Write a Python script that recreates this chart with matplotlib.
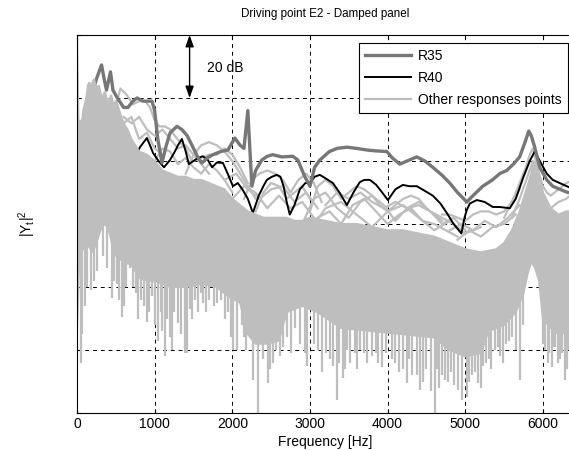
import numpy as np
import matplotlib
matplotlib.use('Agg')
import matplotlib.pyplot as plt

plt.rcParams['font.family'] = ['Liberation Sans', 'DejaVu Sans']
plt.rcParams['font.size'] = 10

# R35 (dB)
f_r35 = [0, 50, 100, 150, 200, 250, 316, 350, 380, 431, 463, 520, 600, 656, 720, 772, 850, 900, 965,
         1000, 1040, 1094, 1150, 1200, 1287, 1350, 1420, 1500, 1560, 1609, 1680, 1750, 1850, 1943,
         2033, 2100, 2150, 2200, 2230, 2252, 2300, 2380, 2450, 2520, 2638, 2780, 2844, 2934, 3000,
         3060, 3127, 3250, 3350, 3475, 3600, 3732, 3850, 3990, 4060, 4157, 4250, 4376, 4480, 4582,
         4700, 4800, 4900, 5019, 5100, 5225, 5350, 5444, 5534, 5620, 5700, 5770, 5817, 5850, 5894,
         5959, 6050, 6126, 6220, 6320, 6400]
db_r35 = [-45, -30, -25, -22, -18, -14, -9.5, -14, -17.5, -11.7, -17.5, -20, -23, -23, -21, -20, -21, -21, -21,
          -24, -33, -40.6, -35, -31, -29, -30, -32, -36, -39, -40.6, -39, -38, -37, -36.5,
          -32.7, -35, -36, -24, -38, -48, -43, -39.7, -38.5, -38, -38.7, -38.5, -39.7, -45, -48,
          -42, -39.7, -37, -36, -35.6, -36, -36.5, -36.8, -37, -39, -41, -40, -38.7, -40, -42,
          -44.5, -47, -50, -53, -51, -48, -46, -44, -43, -41, -38.7, -34, -30.5, -32, -35.6,
          -42, -46, -48, -49, -50, -50]

# R40 (dB)
f_r40 = [0, 300, 600, 700, 760, 811, 860, 900, 940, 980, 1050, 1120, 1197, 1260, 1300, 1351, 1400, 1440,
         1500, 1560, 1620, 1686, 1740, 1800, 1879, 1940, 2008, 2070, 2130, 2200, 2265, 2340, 2400, 2445,
         2510, 2574, 2620, 2660, 2700, 2740, 2800, 2870, 2940, 3000, 3060, 3127, 3200, 3295, 3380, 3475,
         3560, 3642, 3700, 3771, 3850, 3930, 4003, 4100, 4196, 4280, 4376, 4480, 4582, 4680, 4762, 4850,
         4950, 4990, 5019, 5058, 5148, 5250, 5354, 5444, 5573, 5650, 5750, 5830, 5894, 5960, 6049, 6126,
         6216, 6306, 6400]
db_r40 = [-50, -40, -38, -37, -38, -35.6, -34, -32.7, -35, -37.5, -40, -42, -39.7, -37, -35, -33, -37, -41,
          -40, -39, -38.5, -39.7, -42, -40.5, -40.6, -44, -48, -47, -49, -52, -56.5, -51, -48, -46,
          -45, -44.4, -45, -48, -53, -57, -54, -49, -47, -47, -45, -44.4, -45.5, -47, -50, -54,
          -50, -46.7, -46, -46, -47.5, -50, -52.4, -49, -47.6, -48, -48, -49.5, -51, -53.5, -56.5, -60,
          -63, -58, -55.6, -53.5, -52.4, -53, -54.6, -54.6, -55, -52, -45, -40, -37, -40, -44, -46,
          -47, -48, -49]

# other response points: dense part (top / bottom)
f_top = [0, 20, 40, 60, 80, 100, 120, 140, 160, 180, 200, 220, 250, 280, 320, 360, 400, 440, 480, 520,
         560, 600, 650, 700, 800, 900, 1000, 1100, 1200, 1300, 1400, 1500, 1600, 1700, 1800, 1900, 2000,
         2100, 2200, 2300, 2400, 2500, 2600, 2700, 2800, 2900, 3000, 3200, 3400, 3600, 3800, 4000, 4200,
         4400, 4600, 4800, 5000, 5200, 5400, 5500, 5600, 5700, 5750, 5800, 5850, 5880, 5920, 5960, 6000,
         6100, 6200, 6300, 6400]
db_top = [0, -30, -27, -29, -24, -22, -20, -16, -15, -18, -15, -14, -17, -16, -20, -18, -22, -19, -24, -22,
          -26, -28, -30, -33, -37, -38, -40, -43, -44, -45, -45, -46, -46, -47, -48, -49, -52,
          -54, -56, -57, -58, -58, -58, -58, -59, -59, -58, -59, -60, -60, -61, -62, -62,
          -63, -64, -66, -68, -69, -68, -66, -62, -56, -52, -48, -44, -40, -42, -46, -50,
          -55, -57, -56, -56]
f_bot = [0, 30, 60, 100, 150, 200, 250, 300, 350, 400, 450, 500, 600, 700, 800, 900, 1000, 1200, 1400,
         1600, 1800, 1950, 2100, 2200, 2300, 2450, 2600, 2700, 2900, 3100, 3400, 3800, 4200, 4600, 4800,
         5000, 5200, 5300, 5500, 5650, 5750, 5800, 5850, 5900, 5950, 6000, 6100, 6200, 6400]
db_bot = [-94, -70, -68, -68, -67, -69, -66, -62, -60, -61, -66, -70, -72, -73, -77, -78, -78, -80, -80,
          -79, -80, -83, -85, -95, -98, -98, -97, -88, -86, -88, -93, -94, -95, -96, -100,
          -102, -101, -94, -92, -88, -82, -76, -72, -74, -78, -90, -93, -95, -94]

# deep notches of the other responses
dip_f = [50, 70, 103, 130, 180, 220, 257, 330, 380, 450, 480, 515, 540, 580, 610, 630, 682, 720, 760,
         790, 820, 860, 900, 930, 965, 1010, 1042, 1080, 1100, 1133, 1160, 1197, 1220, 1250, 1300, 1340,
         1390, 1416, 1454, 1480, 1520, 1560, 1600, 1622, 1660, 1700, 1760, 1800, 1850, 1900, 1943, 1980,
         2008, 2059, 2120, 2150, 2180, 2265, 2330, 2394, 2458, 2480, 2520, 2560, 2612, 2650, 2700, 2750,
         2806, 2870, 2934, 2960, 3050, 3100, 3153, 3200, 3260, 3300, 3346, 3380, 3420, 3450, 3480, 3520,
         3580, 3600, 3650, 3700, 3732, 3800, 3850, 3880, 3925, 3980, 4050, 4100, 4150, 4200, 4247, 4280,
         4320, 4380, 4415, 4460, 4500, 4560, 4607, 4640, 4660, 4700, 4736, 4780, 4820, 4860, 4903, 4960,
         5019, 5050, 5090, 5130, 5161, 5200, 5230, 5270, 5300, 5330, 5380, 5420, 5450, 5480, 5530, 5560,
         5600, 5650, 5701, 5740, 6000, 6030, 6060, 6080, 6113, 6140, 6160, 6190, 6220, 6250, 6280, 6310,
         6330, 6370]
dip_db = [-104, -95, -86, -80, -81, -78, -75, -70, -74, -83.5, -78, -79, -84, -89.5, -86, -80, -74, -80, -82,
          -90, -84, -86, -91, -88, -83, -92, -97, -88, -94, -102, -90, -96, -100, -88, -91.5, -95,
          -101, -101, -87, -90, -84, -88, -82, -85, -88, -84, -86, -85, -84, -90, -88, -96,
          -100, -100, -92, -96, -100, -109.5, -120, -103, -110.5, -106, -104, -100, -102, -99, -96, -101,
          -93, -98, -101, -105, -98, -100, -107, -101, -103, -105, -116, -104, -109, -106, -100, -104,
          -101, -106, -100, -101, -104, -102, -101, -104, -105.5, -101, -103, -104, -107, -106, -110.5, -103,
          -108, -108, -112.7, -110, -106, -113, -120, -106, -112, -108, -109.5, -110, -107, -111, -112.7, -116,
          -115, -110, -108, -107, -110.5, -112, -105, -104, -103, -106, -100, -99, -102, -104, -98, -97,
          -96, -100, -109.5, -92, -98, -100, -104, -101, -105.5, -99, -99, -104, -103, -101, -109.5, -106,
          -100, -100]

# single responses standing out above the dense part
others = [
    ([300, 400, 500, 600, 700, 800, 900, 1000, 1100],
     [-22, -25, -21, -28, -26, -33, -31, -36, -38]),
    ([480, 560, 640, 720, 800, 880, 940, 1000, 1060, 1130, 1200, 1260, 1325, 1400, 1480],
     [-24, -17, -19, -22, -21, -21, -23, -27, -29, -29, -30, -32, -34, -36, -40]),
    ([600, 700, 800, 900, 1000, 1100, 1200, 1300, 1400, 1500, 1600, 1700],
     [-26, -28, -26, -30, -32, -30, -33, -36, -35, -38, -41, -44]),
    ([1000, 1100, 1200, 1300, 1400, 1500, 1600, 1700, 1800, 1900, 2000],
     [-40, -36, -37, -41, -39, -42, -44, -41, -43, -46, -50]),
    ([1400, 1500, 1600, 1700, 1800, 1850, 1900, 2000, 2100, 2200, 2300],
     [-44, -38, -35, -34, -35, -36, -37, -40, -44, -48, -52]),
    ([1500, 1600, 1700, 1800, 1900, 2000, 2100, 2200],
     [-40, -39, -38, -38, -36, -38, -42, -47]),
    ([1900, 2050, 2200, 2350, 2500, 2650, 2800, 2950, 3100],
     [-46, -44, -49, -52, -49, -48, -53, -50, -55]),
    ([2000, 2150, 2300, 2450, 2600, 2750, 2900, 3050],
     [-52, -48, -50, -55, -51, -55, -53, -58]),
    ([2150, 2250, 2350, 2450, 2550, 2650, 2750, 2850, 2950, 3050, 3150],
     [-52, -46, -44, -43, -44, -46, -50, -46, -44, -47, -53]),
    ([2300, 2400, 2500, 2600, 2700, 2800, 2900, 3000],
     [-56, -50, -47, -48, -52, -50, -48, -52]),
    ([3000, 3100, 3200, 3300, 3400, 3500, 3600, 3700, 3800, 3900, 4000, 4100, 4200, 4300, 4400, 4500, 4600, 4700],
     [-56, -48, -46, -48, -52, -50, -48, -49, -51, -54, -56, -54, -52, -51, -52, -55, -57, -59]),
    ([3200, 3350, 3500, 3650, 3800, 3950, 4100, 4250, 4400, 4550, 4700, 4850],
     [-54, -50, -52, -50, -53, -55, -53, -55, -54, -56, -58, -60]),
    ([2900, 3050, 3200, 3350, 3500, 3650, 3800, 3950, 4100, 4250, 4400, 4550, 4700, 4850, 5000],
     [-60, -52, -50, -55, -58, -53, -51, -54, -59, -55, -53, -56, -60, -58, -62]),
    ([3000, 3200, 3400, 3600, 3800, 4000, 4200, 4400, 4600, 4800, 5000, 5200],
     [-62, -55, -53, -57, -61, -56, -54, -58, -62, -59, -63, -61]),
    ([3100, 3250, 3400, 3550, 3700, 3850, 4000, 4150, 4300, 4450, 4600, 4750, 4900],
     [-58, -56, -60, -54, -52, -56, -60, -57, -55, -59, -60, -62, -64]),
    ([4700, 4800, 4900, 5000, 5100, 5200, 5300, 5400, 5500, 5600, 5700],
     [-57, -57, -58, -59, -57, -56, -56, -57, -56, -53, -49]),
    ([4800, 4950, 5100, 5250, 5400, 5550, 5700],
     [-62, -60, -62, -59, -61, -58, -54]),
    ([4900, 5050, 5200, 5350, 5500, 5650],
     [-65, -62, -64, -61, -60, -57]),
    ([5500, 5600, 5700, 5780, 5830, 5870, 5900, 5950, 6000, 6050, 6100, 6200, 6300, 6400],
     [-58, -53, -47, -42, -38, -36, -39, -44, -48, -50, -51, -49, -47, -46]),
    ([5600, 5700, 5800, 5870, 5920, 6000, 6100, 6200, 6300, 6400],
     [-58, -52, -45, -40, -44, -52, -55, -53, -52, -50]),
]

light = '#bebebe'
dark = '#777777'

fig = plt.figure(figsize=(5.69, 4.5), dpi=100)
ax = fig.add_axes([77 / 569, 1 - 413 / 450, 497 / 569, 378 / 450])

for fo, do in others:
    ax.plot(fo, do, color=light, lw=1.6, zorder=2)
ax.plot(f_r40, db_r40, color='black', lw=1.4, zorder=2.5)
ax.plot(f_r35, db_r35, color=dark, lw=2.4, zorder=2.6)
ax.fill(np.r_[f_top, f_bot[::-1]], np.r_[db_top, db_bot[::-1]], color=light, lw=1.5, ec=light, zorder=3)
ax.vlines(dip_f, np.interp(dip_f, f_bot, db_bot) + 3, dip_db, color=light, lw=1.6, zorder=3)

# legend handles
h35, = ax.plot([], [], color=dark, lw=2.4, label='R35')
h40, = ax.plot([], [], color='black', lw=1.4, label='R40')
ho, = ax.plot([], [], color=light, lw=1.6, label='Other responses points')
leg = ax.legend(handles=[h35, h40, ho], loc='upper right', bbox_to_anchor=(568 / 569, 1 - 43 / 450),
                bbox_transform=fig.transFigure, fancybox=False, framealpha=1, edgecolor='black',
                handlelength=3.3, borderpad=0.45, labelspacing=0.55, handletextpad=0.5, borderaxespad=0)
leg.get_frame().set_linewidth(0.8)
leg.set_zorder(10)

# 20 dB marker
ax.annotate('', xy=(1450, 0), xytext=(1450, -20),
            arrowprops=dict(arrowstyle='<|-|>,head_length=0.7,head_width=0.25', color='black', lw=1,
                            shrinkA=0, shrinkB=0, mutation_scale=10), zorder=6)
ax.text(1680, -10.5, '20 dB', ha='left', va='center')

ax.set_xlim(0, 6400)
ax.set_ylim(-120, 0)
ax.set_xticks(range(0, 7000, 1000))
ax.set_yticks(range(-120, 1, 20))
ax.set_yticklabels([])
ax.tick_params(direction='in', top=True, right=True, length=3, width=0.8, pad=3)
ax.grid(True, color='black', ls=(0, (4, 4)), lw=0.7)
ax.set_axisbelow(True)
for s in ax.spines.values():
    s.set_linewidth(0.8)
    s.set_zorder(5)

ax.set_title('Driving point E2 - Damped panel', fontsize=8.4, pad=13)
ax.set_xlabel('Frequency [Hz]', labelpad=3)
ax.set_ylabel(r'|Y$_\mathregular{t}$|$^\mathregular{2}$', labelpad=25)

plt.savefig('out.png', dpi=100)
